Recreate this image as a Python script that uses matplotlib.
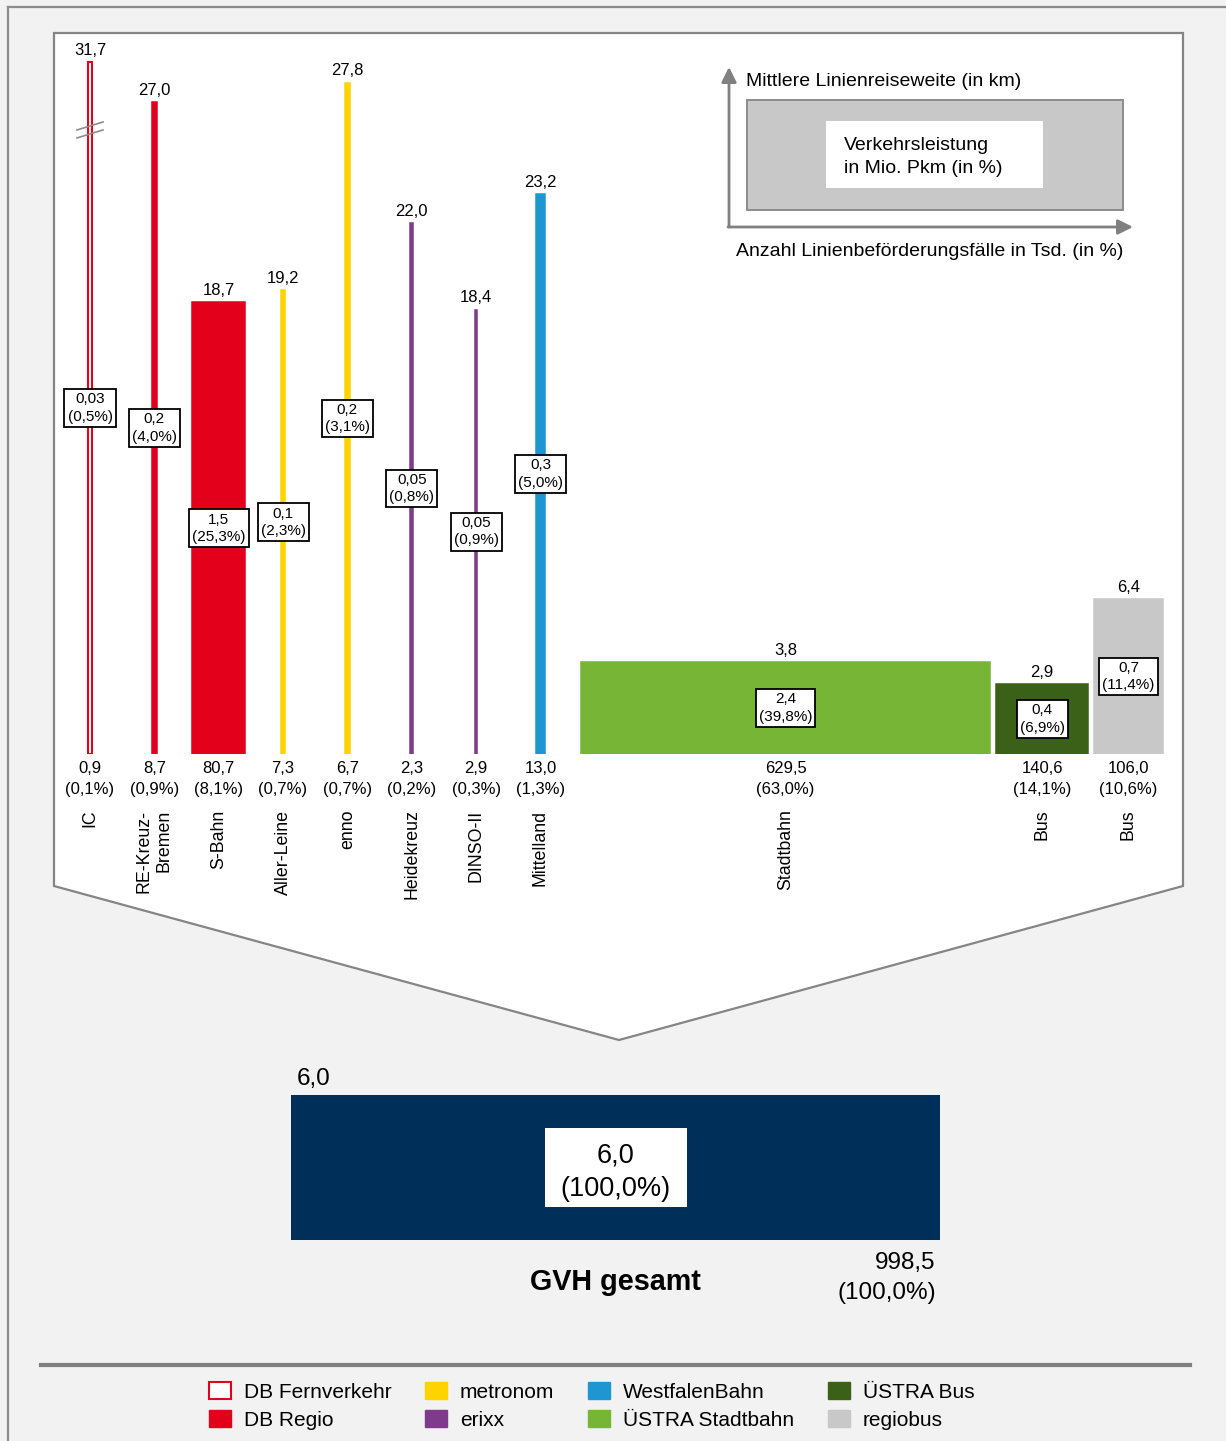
import matplotlib
matplotlib.use('Agg')
import matplotlib.pyplot as plt
from matplotlib.patches import Patch, Polygon, Rectangle

plt.rcParams['font.family'] = ['Liberation Sans', 'DejaVu Sans']

# ---- data ----
linien = ['IC', 'RE-Kreuz-\nBremen', 'S-Bahn', 'Aller-Leine', 'enno', 'Heidekreuz',
          'DINSO-II', 'Mittelland', 'Stadtbahn', 'Bus', 'Bus']
betreiber = ['DB Fernverkehr', 'DB Regio', 'DB Regio', 'metronom', 'metronom', 'erixx',
             'erixx', 'WestfalenBahn', 'ÜSTRA Stadtbahn', 'ÜSTRA Bus', 'regiobus']
faelle = [0.9, 8.7, 80.7, 7.3, 6.7, 2.3, 2.9, 13.0, 629.5, 140.6, 106.0]        # Tsd.
faelle_pct = [0.1, 0.9, 8.1, 0.7, 0.7, 0.2, 0.3, 1.3, 63.0, 14.1, 10.6]
reiseweite = [31.7, 27.0, 18.7, 19.2, 27.8, 22.0, 18.4, 23.2, 3.8, 2.9, 6.4]     # km
leistung = [0.03, 0.2, 1.5, 0.1, 0.2, 0.05, 0.05, 0.3, 2.4, 0.4, 0.7]           # Mio. Pkm
leistung_pct = [0.5, 4.0, 25.3, 2.3, 3.1, 0.8, 0.9, 5.0, 39.8, 6.9, 11.4]

gesamt_faelle = 998.5
gesamt_faelle_pct = 100.0
gesamt_reiseweite = 6.0
gesamt_leistung = 6.0
gesamt_leistung_pct = 100.0

legende = ['DB Fernverkehr', 'DB Regio', 'metronom', 'erixx',
           'WestfalenBahn', 'ÜSTRA Stadtbahn', 'ÜSTRA Bus', 'regiobus']
farben = {'DB Fernverkehr': '#e2001a', 'DB Regio': '#e2001a', 'metronom': '#ffd300',
          'erixx': '#803a8c', 'WestfalenBahn': '#1e96d1', 'ÜSTRA Stadtbahn': '#76b535',
          'ÜSTRA Bus': '#3b6119', 'regiobus': '#c8c8c8'}
navy = '#00305a'
grau = '#858585'


def de(v, nd=1):
    return f'{v:.{nd}f}'.replace('.', ',')


W, H = 1226, 1441
fig = plt.figure(figsize=(W / 100, H / 100), dpi=100, facecolor='#f2f2f2')

# background / decoration in pixel coordinates
bg = fig.add_axes([0, 0, 1, 1])
bg.set_xlim(0, W)
bg.set_ylim(H, 0)
bg.axis('off')
bg.plot([8, 8], [H, 7], color='#8c8c8c', lw=1.6)
bg.plot([8, W], [7, 7], color='#8c8c8c', lw=1.6)
bg.add_patch(Polygon([(54, 33), (1183, 33), (1183, 886), (619, 1040), (54, 886)],
                     closed=True, fc='white', ec=grau, lw=1.6))
bg.plot([41, 1190], [1365, 1365], color='#808080', lw=3)

# explanation box top right
bg.add_patch(Rectangle((747, 100), 376, 110, fc='#c8c8c8', ec='#8c8c8c', lw=1.4))
bg.add_patch(Rectangle((826, 121), 217, 67, fc='white', ec='none'))
bg.text(844, 157, 'Verkehrsleistung\nin Mio. Pkm (in %)', ha='left', va='center',
        fontsize=14, linespacing=1.45)
ap = dict(arrowstyle='-|>,head_length=0.9,head_width=0.45', color='#808080', lw=2,
          shrinkA=0, shrinkB=0)
bg.annotate('', xy=(729, 67), xytext=(729, 227), arrowprops=ap)
bg.annotate('', xy=(1133, 227), xytext=(728, 227), arrowprops=ap)
bg.text(746, 81, 'Mittlere Linienreiseweite (in km)', ha='left', va='center', fontsize=14)
bg.text(736, 251, 'Anzahl Linienbeförderungsfälle in Tsd. (in %)', ha='left', va='center',
        fontsize=14)

# ---- main chart: width ~ Beförderungsfälle, height ~ Reiseweite ----
SX = 0.65    # px per Tsd.
SY = 24.15   # px per km


def px_axes(x0, x1, y_top, y_base):
    a = fig.add_axes([x0 / W, 1 - y_base / H, (x1 - x0) / W, (y_base - y_top) / H])
    a.set_xlim(0, (x1 - x0) / SX)
    a.set_ylim(0, (y_base - y_top) / SY)
    a.axis('off')
    return a


ax = px_axes(54, 1183, 33, 754)

n_schmal = 8
slot0, slot_step = 55.4, 99.0
y_cap = 28.65
xs, ws = [], []
for i, n in enumerate(faelle):
    if i < n_schmal:
        xs.append(slot0 + i * slot_step)
        ws.append(max(n, 4))
    else:
        left = xs[-1] + ws[-1] / 2 + (56 if i == n_schmal else 9.5)
        xs.append(left + n / 2)
        ws.append(n)

for i in range(len(faelle)):
    c = farben[betreiber[i]]
    h = min(reiseweite[i], y_cap)
    if betreiber[i] == 'DB Fernverkehr':
        ax.bar(xs[i], h, width=6, color='white', edgecolor=c, lw=1.5)
    else:
        ax.bar(xs[i], h, width=ws[i], color=c, edgecolor=c, lw=1.1)
    ax.annotate(de(reiseweite[i]), (xs[i], h), xytext=(0, 3), textcoords='offset points',
                ha='center', va='bottom', fontsize=12)
    ax.annotate(f'{de(faelle[i])}\n({de(faelle_pct[i])}%)', (xs[i], 0), xytext=(0, -5),
                textcoords='offset points', ha='center', va='top', fontsize=12,
                linespacing=1.5)
    ax.annotate(linien[i], (xs[i], 0), xytext=(0, -40), textcoords='offset points',
                ha='center', va='top', rotation=90, fontsize=12.8, multialignment='right',
                linespacing=1.25)
    ax.text(xs[i], h / 2, f"{str(leistung[i]).replace('.', ',')}\n({de(leistung_pct[i])}%)",
            ha='center', va='center', fontsize=11, linespacing=1.3,
            bbox=dict(boxstyle='square,pad=0.2', fc='white', ec='black', lw=1.3))

# axis break on the IC bar
ic = 0
for dy in (0.0, -0.33):
    ax.plot([xs[ic] - 20, xs[ic] + 20], [25.84 + dy, 26.17 + dy], color='#8c8c8c', lw=1.2)

# ---- total ----
ax2 = px_axes(54, 1183, 1060, 1240)
cx = (615.5 - 54) / SX
ax2.bar(cx, gesamt_reiseweite, width=gesamt_faelle, color=navy)
ax2.annotate(de(gesamt_reiseweite), (cx - gesamt_faelle / 2, gesamt_reiseweite), xytext=(4, 4),
             textcoords='offset points', ha='left', va='bottom', fontsize=17.5)
ax2.add_patch(Rectangle((cx - 71 / SX, gesamt_reiseweite / 2 - 39.5 / SY), 142 / SX, 79 / SY,
                        fc='white', ec='none'))
ax2.annotate(f'{de(gesamt_leistung)}\n({de(gesamt_leistung_pct)}%)', (cx, gesamt_reiseweite / 2),
             xytext=(0, -3.5), textcoords='offset points',
             ha='center', va='center', fontsize=19.5, linespacing=1.36)
ax2.annotate(f'{de(gesamt_faelle)}\n({de(gesamt_faelle_pct)}%)', (cx + gesamt_faelle / 2, 0),
             xytext=(-3, -9), textcoords='offset points', ha='right', va='top',
             fontsize=17.5, multialignment='right', linespacing=1.45)
ax2.annotate('GVH gesamt', (cx, 0), xytext=(0, -30.5), textcoords='offset points',
             ha='center', va='center', fontsize=20.7, fontweight='bold')

# ---- legend ----
handles = []
for name in legende:
    if name == 'DB Fernverkehr':
        handles.append(Patch(facecolor='white', edgecolor=farben[name], lw=1.5))
    else:
        handles.append(Patch(facecolor=farben[name], edgecolor=farben[name]))
fig.legend(handles, legende, ncol=4, loc='center', bbox_to_anchor=(0.4825, 0.0245),
           frameon=False, fontsize=15, handlelength=1.06, handleheight=0.87,
           handletextpad=0.62, columnspacing=1.62, labelspacing=0.4)

fig.savefig('out.png', dpi=100, facecolor=fig.get_facecolor())
